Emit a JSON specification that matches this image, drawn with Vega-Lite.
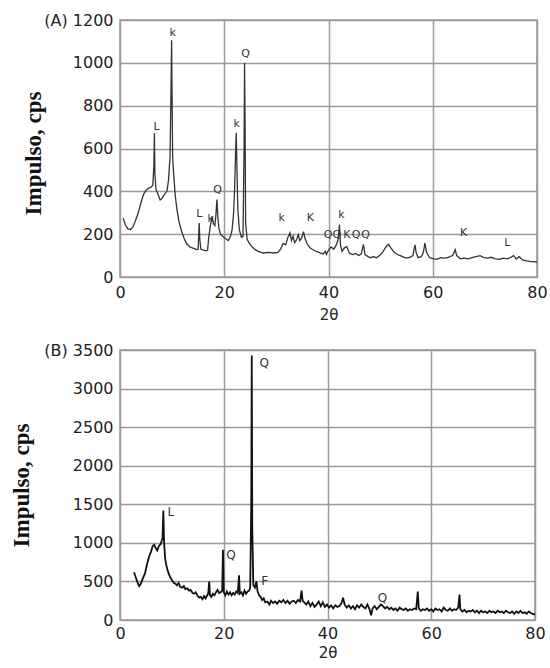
{
  "$schema": "https://vega.github.io/schema/vega-lite/v6.json",
  "padding": {"left": 9, "top": 11, "right": 5, "bottom": 3},
  "background": "white",
  "spacing": 18,
  "config": {
    "view": {"stroke": "#9a9a9a", "strokeWidth": 1.5},
    "axis": {
      "grid": true, "gridColor": "#9a9a9a", "gridWidth": 1.5, "gridOpacity": 1,
      "domain": false, "ticks": false, "labelOverlap": false,
      "labelFont": "DejaVu Sans", "labelFontSize": 16, "labelColor": "#222",
      "titleColor": "#222"
    }
  },
  "datasets": {
    "a": [
      {"t":0.6,"c":275},{"t":1.0,"c":245},{"t":1.5,"c":225},{"t":2.0,"c":222},{"t":2.5,"c":235},{"t":3.0,"c":265},{"t":3.5,"c":300},{"t":4.0,"c":345},{"t":4.5,"c":385},{"t":5.0,"c":405},{"t":5.5,"c":415},{"t":6.0,"c":420},{"t":6.3,"c":430},{"t":6.5,"c":520},{"t":6.6,"c":672},{"t":6.7,"c":480},{"t":6.9,"c":410},{"t":7.3,"c":385},{"t":7.7,"c":360},{"t":8.0,"c":365},{"t":8.5,"c":385},{"t":9.0,"c":400},{"t":9.3,"c":450},{"t":9.6,"c":560},{"t":9.8,"c":900},{"t":9.9,"c":1105},{"t":10.0,"c":800},{"t":10.1,"c":560},{"t":10.3,"c":480},{"t":10.6,"c":380},{"t":10.9,"c":320},{"t":11.3,"c":260},{"t":11.8,"c":215},{"t":12.3,"c":180},{"t":12.8,"c":155},{"t":13.4,"c":140},{"t":14.0,"c":135},{"t":14.7,"c":128},{"t":15.0,"c":130},{"t":15.1,"c":200},{"t":15.2,"c":252},{"t":15.3,"c":180},{"t":15.5,"c":130},{"t":16.0,"c":125},{"t":16.5,"c":122},{"t":16.8,"c":125},{"t":17.0,"c":180},{"t":17.3,"c":235},{"t":17.5,"c":260},{"t":17.7,"c":282},{"t":17.9,"c":250},{"t":18.2,"c":240},{"t":18.4,"c":290},{"t":18.6,"c":362},{"t":18.8,"c":270},{"t":19.0,"c":225},{"t":19.3,"c":200},{"t":19.7,"c":190},{"t":20.2,"c":180},{"t":20.8,"c":170},{"t":21.2,"c":190},{"t":21.5,"c":220},{"t":21.8,"c":300},{"t":22.0,"c":420},{"t":22.2,"c":600},{"t":22.3,"c":672},{"t":22.4,"c":550},{"t":22.6,"c":320},{"t":22.9,"c":220},{"t":23.3,"c":185},{"t":23.6,"c":190},{"t":23.8,"c":600},{"t":23.9,"c":1000},{"t":24.0,"c":700},{"t":24.1,"c":250},{"t":24.4,"c":175},{"t":25.0,"c":150},{"t":25.8,"c":130},{"t":26.5,"c":120},{"t":27.5,"c":112},{"t":28.5,"c":115},{"t":29.5,"c":112},{"t":30.3,"c":115},{"t":30.8,"c":130},{"t":31.3,"c":157},{"t":31.8,"c":150},{"t":32.2,"c":185},{"t":32.6,"c":206},{"t":32.9,"c":170},{"t":33.2,"c":190},{"t":33.5,"c":160},{"t":33.9,"c":175},{"t":34.2,"c":198},{"t":34.5,"c":170},{"t":34.9,"c":185},{"t":35.2,"c":212},{"t":35.5,"c":180},{"t":35.9,"c":155},{"t":36.5,"c":135},{"t":37.1,"c":126},{"t":37.8,"c":118},{"t":38.5,"c":112},{"t":39.0,"c":108},{"t":39.4,"c":120},{"t":39.6,"c":105},{"t":40.0,"c":126},{"t":40.5,"c":140},{"t":41.0,"c":130},{"t":41.5,"c":150},{"t":41.8,"c":170},{"t":42.0,"c":210},{"t":42.1,"c":245},{"t":42.3,"c":150},{"t":42.6,"c":120},{"t":43.0,"c":135},{"t":43.5,"c":142},{"t":44.0,"c":112},{"t":44.6,"c":105},{"t":45.2,"c":110},{"t":45.8,"c":100},{"t":46.3,"c":108},{"t":46.7,"c":152},{"t":47.0,"c":105},{"t":47.6,"c":95},{"t":48.0,"c":90},{"t":48.6,"c":95},{"t":49.2,"c":90},{"t":49.8,"c":100},{"t":50.5,"c":120},{"t":51.0,"c":140},{"t":51.5,"c":153},{"t":52.0,"c":135},{"t":52.6,"c":115},{"t":53.2,"c":105},{"t":53.8,"c":100},{"t":54.5,"c":92},{"t":55.0,"c":88},{"t":55.6,"c":92},{"t":56.2,"c":100},{"t":56.4,"c":130},{"t":56.6,"c":150},{"t":56.8,"c":115},{"t":57.2,"c":90},{"t":57.8,"c":95},{"t":58.2,"c":115},{"t":58.5,"c":158},{"t":58.8,"c":115},{"t":59.4,"c":90},{"t":60.2,"c":85},{"t":60.8,"c":82},{"t":61.5,"c":90},{"t":62.2,"c":88},{"t":63.0,"c":92},{"t":63.8,"c":100},{"t":64.1,"c":115},{"t":64.3,"c":128},{"t":64.6,"c":100},{"t":65.3,"c":85},{"t":66.0,"c":88},{"t":66.8,"c":85},{"t":67.5,"c":90},{"t":68.3,"c":95},{"t":69.1,"c":100},{"t":69.7,"c":92},{"t":70.5,"c":88},{"t":71.2,"c":92},{"t":72.0,"c":85},{"t":72.8,"c":82},{"t":73.5,"c":88},{"t":74.3,"c":85},{"t":75.0,"c":92},{"t":75.5,"c":100},{"t":76.0,"c":85},{"t":76.6,"c":95},{"t":77.2,"c":80},{"t":78.0,"c":75},{"t":78.8,"c":72},{"t":79.5,"c":72},{"t":80.0,"c":70}
    ],
    "aLab": [
      {"t":7.0,"c":700,"s":"L"},{"t":10.1,"c":1140,"s":"k"},{"t":15.2,"c":295,"s":"L"},{"t":17.4,"c":270,"s":"k"},{"t":18.7,"c":405,"s":"Q"},{"t":22.4,"c":715,"s":"k"},{"t":24.1,"c":1040,"s":"Q"},{"t":31.0,"c":275,"s":"k"},{"t":36.5,"c":275,"s":"K"},{"t":39.9,"c":196,"s":"Q"},{"t":41.6,"c":196,"s":"Q"},{"t":43.5,"c":196,"s":"K"},{"t":45.3,"c":196,"s":"Q"},{"t":47.1,"c":196,"s":"Q"},{"t":42.5,"c":290,"s":"k"},{"t":65.9,"c":204,"s":"K"},{"t":74.3,"c":160,"s":"L"}
    ],
    "b": [
      {"t":2.7,"c":620},{"t":3.0,"c":560},{"t":3.3,"c":500},{"t":3.7,"c":440},{"t":4.0,"c":470},{"t":4.4,"c":540},{"t":4.8,"c":600},{"t":5.2,"c":720},{"t":5.6,"c":820},{"t":6.0,"c":890},{"t":6.3,"c":960},{"t":6.6,"c":975},{"t":6.9,"c":930},{"t":7.2,"c":900},{"t":7.5,"c":960},{"t":7.8,"c":980},{"t":8.0,"c":1020},{"t":8.2,"c":1060},{"t":8.35,"c":1420},{"t":8.5,"c":1000},{"t":8.7,"c":800},{"t":8.9,"c":720},{"t":9.2,"c":640},{"t":9.5,"c":580},{"t":9.8,"c":540},{"t":10.1,"c":510},{"t":10.4,"c":480},{"t":10.7,"c":470},{"t":11.0,"c":450},{"t":11.3,"c":480},{"t":11.6,"c":430},{"t":12.0,"c":420},{"t":12.3,"c":440},{"t":12.6,"c":400},{"t":13.0,"c":410},{"t":13.3,"c":380},{"t":13.6,"c":390},{"t":14.0,"c":350},{"t":14.3,"c":340},{"t":14.6,"c":360},{"t":15.0,"c":310},{"t":15.3,"c":290},{"t":15.6,"c":300},{"t":15.9,"c":270},{"t":16.2,"c":310},{"t":16.5,"c":280},{"t":16.8,"c":320},{"t":17.0,"c":340},{"t":17.2,"c":500},{"t":17.35,"c":320},{"t":17.6,"c":300},{"t":17.9,"c":340},{"t":18.2,"c":320},{"t":18.5,"c":360},{"t":18.8,"c":390},{"t":19.1,"c":350},{"t":19.4,"c":360},{"t":19.7,"c":380},{"t":19.85,"c":910},{"t":20.0,"c":360},{"t":20.3,"c":320},{"t":20.6,"c":370},{"t":20.9,"c":330},{"t":21.2,"c":360},{"t":21.5,"c":320},{"t":21.8,"c":350},{"t":22.1,"c":330},{"t":22.4,"c":370},{"t":22.7,"c":350},{"t":22.95,"c":580},{"t":23.1,"c":340},{"t":23.4,"c":360},{"t":23.7,"c":320},{"t":24.0,"c":380},{"t":24.3,"c":340},{"t":24.6,"c":370},{"t":24.9,"c":380},{"t":25.1,"c":420},{"t":25.3,"c":1500},{"t":25.4,"c":3430},{"t":25.5,"c":1200},{"t":25.7,"c":450},{"t":26.0,"c":420},{"t":26.3,"c":500},{"t":26.5,"c":380},{"t":26.8,"c":320},{"t":27.1,"c":300},{"t":27.4,"c":260},{"t":27.7,"c":280},{"t":28.0,"c":230},{"t":28.4,"c":240},{"t":28.8,"c":200},{"t":29.1,"c":250},{"t":29.5,"c":220},{"t":29.9,"c":240},{"t":30.3,"c":210},{"t":30.7,"c":250},{"t":31.1,"c":230},{"t":31.5,"c":260},{"t":31.9,"c":220},{"t":32.3,"c":250},{"t":32.7,"c":210},{"t":33.1,"c":240},{"t":33.5,"c":250},{"t":33.9,"c":220},{"t":34.3,"c":260},{"t":34.7,"c":240},{"t":35.0,"c":380},{"t":35.2,"c":250},{"t":35.5,"c":230},{"t":35.9,"c":200},{"t":36.3,"c":240},{"t":36.7,"c":180},{"t":37.1,"c":220},{"t":37.5,"c":170},{"t":37.9,"c":200},{"t":38.3,"c":240},{"t":38.7,"c":180},{"t":39.1,"c":230},{"t":39.5,"c":170},{"t":39.9,"c":200},{"t":40.3,"c":160},{"t":40.7,"c":190},{"t":41.1,"c":150},{"t":41.5,"c":190},{"t":41.9,"c":170},{"t":42.3,"c":180},{"t":42.7,"c":220},{"t":43.0,"c":290},{"t":43.3,"c":200},{"t":43.7,"c":160},{"t":44.1,"c":190},{"t":44.5,"c":150},{"t":44.9,"c":180},{"t":45.3,"c":140},{"t":45.7,"c":190},{"t":46.1,"c":160},{"t":46.5,"c":200},{"t":46.9,"c":170},{"t":47.3,"c":150},{"t":47.7,"c":200},{"t":48.1,"c":140},{"t":48.4,"c":60},{"t":48.7,"c":150},{"t":49.1,"c":180},{"t":49.5,"c":140},{"t":49.9,"c":170},{"t":50.3,"c":200},{"t":50.7,"c":180},{"t":51.1,"c":150},{"t":51.5,"c":170},{"t":51.9,"c":140},{"t":52.3,"c":160},{"t":52.7,"c":130},{"t":53.1,"c":150},{"t":53.5,"c":120},{"t":53.9,"c":160},{"t":54.3,"c":140},{"t":54.7,"c":130},{"t":55.1,"c":150},{"t":55.5,"c":120},{"t":55.9,"c":140},{"t":56.3,"c":130},{"t":56.7,"c":150},{"t":57.1,"c":140},{"t":57.4,"c":370},{"t":57.6,"c":150},{"t":58.0,"c":120},{"t":58.4,"c":140},{"t":58.8,"c":130},{"t":59.2,"c":150},{"t":59.6,"c":120},{"t":60.0,"c":140},{"t":60.4,"c":110},{"t":60.8,"c":150},{"t":61.2,"c":130},{"t":61.6,"c":140},{"t":62.0,"c":110},{"t":62.4,"c":160},{"t":62.8,"c":130},{"t":63.2,"c":120},{"t":63.6,"c":150},{"t":64.0,"c":120},{"t":64.4,"c":140},{"t":64.8,"c":130},{"t":65.2,"c":160},{"t":65.45,"c":330},{"t":65.6,"c":140},{"t":66.0,"c":110},{"t":66.4,"c":130},{"t":66.8,"c":100},{"t":67.2,"c":120},{"t":67.6,"c":110},{"t":68.0,"c":130},{"t":68.4,"c":100},{"t":68.8,"c":120},{"t":69.2,"c":90},{"t":69.6,"c":120},{"t":70.0,"c":100},{"t":70.4,"c":110},{"t":70.8,"c":90},{"t":71.2,"c":120},{"t":71.6,"c":100},{"t":72.0,"c":110},{"t":72.4,"c":90},{"t":72.8,"c":120},{"t":73.2,"c":100},{"t":73.6,"c":110},{"t":74.0,"c":90},{"t":74.4,"c":120},{"t":74.8,"c":100},{"t":75.2,"c":90},{"t":75.6,"c":110},{"t":76.0,"c":80},{"t":76.4,"c":110},{"t":76.8,"c":90},{"t":77.2,"c":120},{"t":77.6,"c":90},{"t":78.0,"c":100},{"t":78.4,"c":80},{"t":78.8,"c":110},{"t":79.2,"c":90},{"t":79.6,"c":80},{"t":80.0,"c":70}
    ],
    "bLab": [
      {"t":9.8,"c":1405,"s":"L"},{"t":21.4,"c":840,"s":"Q"},{"t":27.8,"c":3327,"s":"Q"},{"t":27.9,"c":506,"s":"F"},{"t":50.6,"c":290,"s":"Q"}
    ]
  },
  "vconcat": [
    {
      "width": 417, "height": 257,
      "encoding": {
        "x": {"field": "t", "type": "quantitative",
          "scale": {"domain": [0, 80], "nice": false},
          "axis": {"values": [0, 20, 40, 60, 80], "title": "2θ", "titleFont": "DejaVu Sans", "titleFontSize": 15, "titleFontWeight": "normal", "labelPadding": 7, "titlePadding": 7, "labelFlush": false}},
        "y": {"field": "c", "type": "quantitative",
          "scale": {"domain": [0, 1200], "nice": false},
          "axis": {"values": [0, 200, 400, 600, 800, 1000, 1200], "labelExpr": "datum.value == 1200 ? '(A) 1200' : '' + datum.value", "labelPadding": 7, "title": "Impulso, cps", "titleFont": "Liberation Serif", "titleFontSize": 23, "titleFontWeight": "bold", "titleColor": "#111", "titleX": -75, "titleY": 133, "titleBaseline": "bottom"}}
      },
      "layer": [
        {
          "data": {"name": "a"},
          "mark": {"type": "line", "color": "#333333", "strokeWidth": 1.3}
        },
        {
          "data": {"name": "aLab"},
          "mark": {"type": "text", "align": "center", "baseline": "middle", "font": "DejaVu Sans", "fontSize": 11, "color": "#333333"},
          "encoding": {"text": {"field": "s"}}
        }
      ]
    },
    {
      "width": 415, "height": 270,
      "encoding": {
        "x": {"field": "t", "type": "quantitative",
          "scale": {"domain": [0, 80], "nice": false},
          "axis": {"values": [0, 20, 40, 60, 80], "title": "2θ", "titleFont": "DejaVu Sans", "titleFontSize": 15, "titleFontWeight": "normal", "labelPadding": 5, "titlePadding": 4, "labelFlush": false}},
        "y": {"field": "c", "type": "quantitative",
          "scale": {"domain": [0, 3500], "nice": false},
          "axis": {"values": [0, 500, 1000, 1500, 2000, 2500, 3000, 3500], "labelExpr": "datum.value == 3500 ? '(B) 3500' : '' + datum.value", "labelPadding": 7, "title": "Impulso, cps", "titleFont": "Liberation Serif", "titleFontSize": 23, "titleFontWeight": "bold", "titleColor": "#111", "titleX": -87, "titleY": 135, "titleBaseline": "bottom"}}
      },
      "layer": [
        {
          "data": {"name": "b"},
          "mark": {"type": "line", "color": "#111111", "strokeWidth": 1.8}
        },
        {
          "data": {"name": "bLab"},
          "mark": {"type": "text", "align": "center", "baseline": "middle", "font": "DejaVu Sans", "fontSize": 12, "color": "#333333"},
          "encoding": {"text": {"field": "s"}}
        }
      ]
    }
  ]
}
